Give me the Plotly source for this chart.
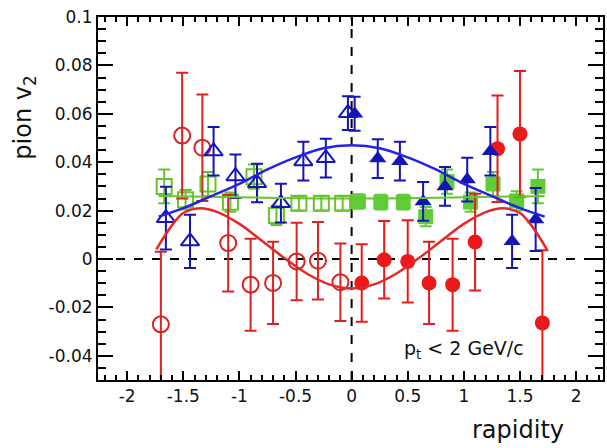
import plotly.graph_objects as go

# ---- data ----
x_red_l = [-1.70, -1.51, -1.33, -1.10, -0.90, -0.70, -0.49, -0.30, -0.10]
y_red_l = [-0.027, 0.051, 0.046, 0.0066, -0.0106, -0.0099, -0.001, -0.0007, -0.0096]
e_red_l = [0.030, 0.026, 0.022, 0.020, 0.019, 0.017, 0.016, 0.016, 0.016]

x_red_r = [0.09, 0.29, 0.50, 0.69, 0.90, 1.10, 1.30, 1.50, 1.70]
y_red_r = [-0.0099, -0.0003, -0.001, -0.0099, -0.0106, 0.007, 0.0456, 0.0517, -0.0264]
e_red_r = [0.016, 0.016, 0.017, 0.017, 0.019, 0.020, 0.022, 0.026, 0.030]

x_blue_l = [-1.655, -1.44, -1.23, -1.035, -0.843, -0.63, -0.43, -0.23, -0.033]
y_blue_l = [0.0169, 0.0073, 0.0445, 0.0342, 0.0314, 0.0231, 0.0404, 0.0417, 0.0603]
e_blue_l = [0.013, 0.011, 0.010, 0.009, 0.008, 0.008, 0.008, 0.008, 0.007]

x_blue_r = [0.027, 0.233, 0.43, 0.637, 0.832, 1.03, 1.236, 1.43, 1.64]
y_blue_r = [0.060, 0.0415, 0.0404, 0.0238, 0.030, 0.0328, 0.0445, 0.0073, 0.0163]
e_blue_r = [0.007, 0.008, 0.008, 0.008, 0.008, 0.009, 0.010, 0.011, 0.013]

x_green_l = [-1.67, -1.48, -1.28, -1.08, -0.87, -0.67, -0.47, -0.27, -0.08]
y_green_l = [0.030, 0.0245, 0.031, 0.0235, 0.034, 0.018, 0.023, 0.023, 0.023]
e_green_l = [0.007, 0.004, 0.005, 0.004, 0.005, 0.004, 0.003, 0.003, 0.003]

x_green_r = [0.06, 0.26, 0.46, 0.66, 0.85, 1.06, 1.26, 1.47, 1.66]
y_green_r = [0.0238, 0.0235, 0.0235, 0.0175, 0.032, 0.0235, 0.031, 0.024, 0.030]
e_green_r = [0.003, 0.003, 0.003, 0.004, 0.005, 0.004, 0.005, 0.004, 0.007]

# fit curves
x_fit_blue = [-1.72, -1.5, -1.25, -1.0, -0.75, -0.5, -0.25, 0, 0.25, 0.5, 0.75, 1.0, 1.25, 1.5, 1.72]
y_fit_blue = [0.0175, 0.021, 0.026, 0.031, 0.037, 0.042, 0.0458, 0.047, 0.0458, 0.042, 0.037, 0.031, 0.026, 0.021, 0.0175]

x_fit_red = [-1.74, -1.6, -1.5, -1.35, -1.2, -1.0, -0.8, -0.6, -0.4, -0.2, 0,
             0.2, 0.4, 0.6, 0.8, 1.0, 1.2, 1.35, 1.5, 1.6, 1.74]
y_fit_red = [0.004, 0.014, 0.019, 0.021, 0.0195, 0.0145, 0.0075, 0.0004, -0.006, -0.0105, -0.0122,
             -0.0105, -0.006, 0.0004, 0.0075, 0.0145, 0.0195, 0.021, 0.019, 0.014, 0.004]

x_fit_green = [-1.72, -1.0, 0, 1.0, 1.72]
y_fit_green = [0.026, 0.0255, 0.025, 0.0255, 0.026]

x_tickvals = [-2, -1.5, -1, -0.5, 0, 0.5, 1, 1.5, 2]
x_ticktext = ["-2", "-1.5", "-1", "-0.5", "0", "0.5", "1", "1.5", "2"]
y_tickvals = [-0.04, -0.02, 0, 0.02, 0.04, 0.06, 0.08, 0.1]
y_ticktext = ["-0.04", "-0.02", "0", "0.02", "0.04", "0.06", "0.08", "0.1"]

RED = "rgb(215,35,35)"
RED_F = "rgb(235,25,25)"
BLUE = "rgb(20,20,185)"
GREEN = "rgb(105,195,45)"
GREEN_F = "rgb(95,205,55)"

fig = go.Figure()

def pts(x, y, e, color, symbol, size, lw=2):
    fig.add_trace(go.Scatter(
        x=x, y=y, mode="markers",
        marker=dict(symbol=symbol, size=size, color=color,
                    line=dict(color=color, width=lw)),
        error_y=dict(type="data", array=e, color=color, thickness=2, width=6),
        showlegend=False))

# green
pts(x_green_l, y_green_l, e_green_l, GREEN, "square-open", 15)
pts(x_green_r, y_green_r, e_green_r, GREEN_F, "square", 15, 0)
# red
pts(x_red_l, y_red_l, e_red_l, RED, "circle-open", 16)
pts(x_red_r, y_red_r, e_red_r, RED_F, "circle", 15, 0)
# blue
pts(x_blue_l, y_blue_l, e_blue_l, BLUE, "triangle-up-open", 16)
pts(x_blue_r, y_blue_r, e_blue_r, BLUE, "triangle-up", 15, 0)

# fit curves
fig.add_trace(go.Scatter(x=x_fit_green, y=y_fit_green, mode="lines",
                         line=dict(color=GREEN, width=2, shape="spline"), showlegend=False))
fig.add_trace(go.Scatter(x=x_fit_red, y=y_fit_red, mode="lines",
                         line=dict(color="rgb(230,40,40)", width=2.5, shape="spline"), showlegend=False))
fig.add_trace(go.Scatter(x=x_fit_blue, y=y_fit_blue, mode="lines",
                         line=dict(color="rgb(35,35,225)", width=2.5, shape="spline"), showlegend=False))

# reference dashed lines
fig.add_hline(y=0, line=dict(color="black", width=2, dash="dash"), layer="below")
fig.add_vline(x=0, line=dict(color="black", width=2, dash="dash"), layer="below")

FONT = "DejaVu Sans, Liberation Sans, Arial, sans-serif"
axis_font = dict(family=FONT, size=17, color="#111")

fig.update_xaxes(range=[-2.26, 2.24], showgrid=False, zeroline=False,
                 showline=True, linecolor="black", linewidth=2, mirror="allticks",
                 ticks="inside", ticklen=9, tickwidth=1.5, tickcolor="black",
                 tickmode="array", tickvals=x_tickvals, ticktext=x_ticktext,
                 tickfont=axis_font,
                 minor=dict(tickmode="linear", tick0=0, dtick=0.1, ticks="inside",
                            ticklen=5, tickwidth=1.5, tickcolor="black"))
fig.update_yaxes(range=[-0.05, 0.1], showgrid=False, zeroline=False,
                 showline=True, linecolor="black", linewidth=2, mirror="allticks",
                 ticks="inside", ticklen=15, tickwidth=1.5, tickcolor="black",
                 tickmode="array", tickvals=y_tickvals, ticktext=y_ticktext,
                 tickfont=axis_font,
                 minor=dict(tickmode="linear", tick0=0, dtick=0.005, ticks="inside",
                            ticklen=8, tickwidth=1.5, tickcolor="black"))

title_font = dict(family=FONT, size=24, color="#111")

fig.add_annotation(text="pion v<sub>2</sub>", xref="paper", yref="paper",
                   x=-0.145, y=0.722, textangle=-90, showarrow=False,
                   xanchor="center", yanchor="middle", font=title_font)
fig.add_annotation(text="rapidity", xref="paper", yref="paper",
                   x=0.832, y=-0.138, showarrow=False,
                   xanchor="center", yanchor="middle", font=title_font)
fig.add_annotation(text="p<sub>t</sub> &lt; 2 GeV/c", xref="paper", yref="paper",
                   x=0.725, y=0.083, showarrow=False,
                   xanchor="center", yanchor="middle",
                   font=dict(family=FONT, size=19, color="#111"))

fig.update_layout(width=607, height=448,
                  margin=dict(l=98, r=2, t=17, b=68),
                  paper_bgcolor="white", plot_bgcolor="white")

fig.write_html("out.html")
